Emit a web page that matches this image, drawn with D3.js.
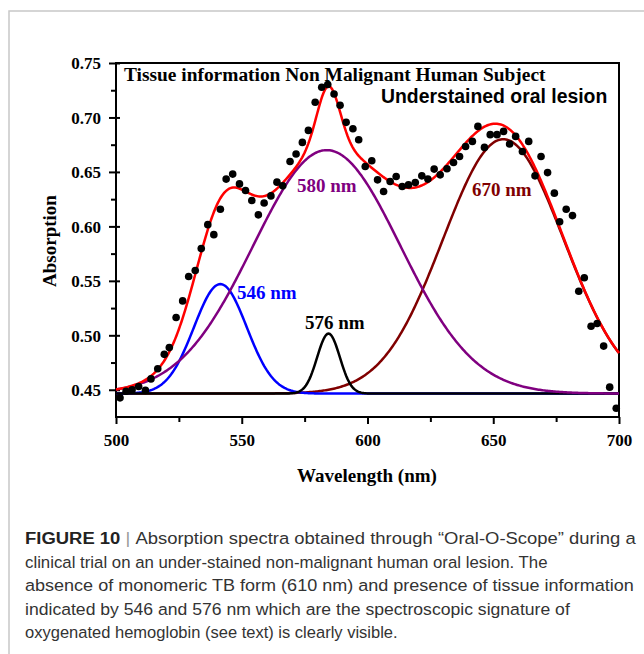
<!DOCTYPE html>
<html lang="en">
<head>
    <meta charset="UTF-8">
    <title>Figure 10</title>
    <script src="https://cdn.jsdelivr.net/npm/d3@7"></script>
    <style>
        body { margin: 0; background: #fff; }
        svg { display: block; }
    </style>
</head>
<body>
    <svg></svg>
    <script>
        // measured points (wavelength nm, absorption)
        let wavelength = [501.6, 504.0, 506.4, 509.0, 511.7, 513.9, 516.6, 519.2, 521.2, 523.9,
            526.5, 528.9, 531.5, 533.9, 536.5, 538.9, 541.5, 543.8, 546.4, 549.1,
            551.5, 554.0, 556.6, 558.9, 561.6, 564.0, 566.3, 569.2, 571.6, 574.1,
            576.5, 579.2, 581.8, 584.2, 586.7, 589.1, 591.5, 594.2, 596.5, 599.1,
            601.7, 604.0, 606.4, 609.0, 611.4, 613.8, 616.3, 619.0, 621.6, 624.0,
            626.5, 628.9, 631.6, 634.2, 636.6, 639.0, 641.7, 643.9, 646.5, 648.8,
            651.5, 654.1, 656.5, 658.9, 661.6, 664.1, 666.6, 669.0, 671.6, 674.3,
            676.4, 679.0, 681.5, 684.0, 686.2, 688.9, 691.3, 693.9, 696.3, 698.9];
        let absorption = [0.4426, 0.4487, 0.4500, 0.4530, 0.4494, 0.4600, 0.4693, 0.4825, 0.4887, 0.5163,
            0.5316, 0.5540, 0.5595, 0.5796, 0.6016, 0.5924, 0.6157, 0.6434, 0.6480, 0.6390,
            0.6329, 0.6237, 0.6106, 0.6215, 0.6280, 0.6406, 0.6372, 0.6596, 0.6664, 0.6771,
            0.6881, 0.7139, 0.7277, 0.7302, 0.7216, 0.7112, 0.6955, 0.6897, 0.6796, 0.6550,
            0.6602, 0.6427, 0.6320, 0.6412, 0.6458, 0.6366, 0.6381, 0.6402, 0.6464, 0.6434,
            0.6526, 0.6473, 0.6529, 0.6587, 0.6642, 0.6734, 0.6780, 0.6918, 0.6725, 0.6842,
            0.6842, 0.6872, 0.6756, 0.6826, 0.6688, 0.6780, 0.6464, 0.6642, 0.6494, 0.6305,
            0.6043, 0.6157, 0.6099, 0.5405, 0.5528, 0.5083, 0.5108, 0.4901, 0.4524, 0.4331];

        // gaussian fit components
        let baseline = 0.4465;
        let peakNames = ["546 nm", "576 nm", "580 nm", "670 nm"];
        let peakCenter = [541.5, 584.5, 583.8, 654.0];
        let peakTop = [0.547, 0.5016, 0.670, 0.680];
        let peakSigma = [10.5, 4.5, 29.3, 24];
        let peakColor = ["#0000ff", "#000000", "#800080", "#800000"];

        let xTicks = [500, 550, 600, 650, 700];
        let yTicks = [0.45, 0.50, 0.55, 0.60, 0.65, 0.70, 0.75];

        let width = 644, height = 654;
        let svg = d3.select("svg").attr("width", width).attr("height", height);

        // outer figure frame (grey)
        svg.append("path")
            .attr("d", "M9,654 V11 H644")
            .attr("fill", "none")
            .attr("stroke", "#c8c8c8")
            .attr("stroke-width", 1.5);

        let x = d3.scaleLinear().domain([500, 700]).range([116, 619]);
        let y = d3.scaleLinear().domain([0.425, 0.75]).range([417, 63]);

        let serif = "'Liberation Serif', 'Times New Roman', serif";
        let sans = "'Liberation Sans', Arial, sans-serif";

        // axes
        let xAxis = svg.append("g").attr("transform", "translate(0,417)")
            .call(d3.axisBottom(x).tickValues(xTicks).tickSize(7).tickSizeOuter(0).tickFormat(d3.format("d")));
        let xMinor = svg.append("g").attr("transform", "translate(0,417)")
            .call(d3.axisBottom(x).tickValues([525, 575, 625, 675]).tickSize(5).tickFormat(""));
        let yAxis = svg.append("g").attr("transform", "translate(116,0)")
            .call(d3.axisLeft(y).tickValues(yTicks).tickSize(7).tickSizeOuter(0).tickFormat(d3.format(".2f")));
        let yMinor = svg.append("g").attr("transform", "translate(116,0)")
            .call(d3.axisLeft(y).tickValues([0.475, 0.525, 0.575, 0.625, 0.675, 0.725]).tickSize(5).tickFormat(""));

        [xAxis, xMinor, yAxis, yMinor].forEach(g => {
            g.select(".domain").remove();
            g.selectAll("line").attr("stroke", "#000").attr("stroke-width", 2);
        });
        yAxis.selectAll(".tick line").attr("x2", -7).attr("x1", 4);
        xAxis.selectAll("text").attr("y", 17).attr("dy", "0.71em")
            .attr("font-family", serif).attr("font-size", 17).attr("font-weight", "bold").attr("fill", "#000");
        yAxis.selectAll("text").attr("x", -15).attr("dy", "0.34em")
            .attr("font-family", serif).attr("font-size", 17).attr("font-weight", "bold").attr("fill", "#000");

        // frame of the plot
        svg.append("rect")
            .attr("x", x(500)).attr("y", y(0.75))
            .attr("width", x(700) - x(500)).attr("height", y(0.425) - y(0.75))
            .attr("fill", "none").attr("stroke", "#000").attr("stroke-width", 2);

        // component curves
        let xs = d3.range(500, 700.01, 0.5);
        let gauss = (i, w) => (peakTop[i] - baseline) * Math.exp(-Math.pow(w - peakCenter[i], 2) / (2 * peakSigma[i] * peakSigma[i]));
        let line = d3.line().x(d => x(d[0])).y(d => y(d[1]));

        [3, 0, 1, 2].forEach(i => {
            svg.append("path")
                .datum(xs.map(w => [w, baseline + gauss(i, w)]))
                .attr("d", line)
                .attr("fill", "none")
                .attr("stroke", peakColor[i])
                .attr("stroke-width", 2.5);
        });

        // total fit
        svg.append("path")
            .datum(xs.map(w => [w, baseline + d3.sum(peakCenter, (c, i) => gauss(i, w))]))
            .attr("d", line)
            .attr("fill", "none")
            .attr("stroke", "#ff0000")
            .attr("stroke-width", 2.5);

        // measured points
        svg.append("g").selectAll("circle")
            .data(wavelength)
            .enter()
            .append("circle")
            .attr("cx", d => x(d))
            .attr("cy", (d, i) => y(absorption[i]))
            .attr("r", 3.8)
            .attr("fill", "#000");

        // peak labels
        let labelPos = [[237, 299], [305, 329], [297, 192], [472, 196]];
        peakNames.forEach((t, i) => {
            svg.append("text")
                .attr("x", labelPos[i][0]).attr("y", labelPos[i][1])
                .attr("font-family", serif).attr("font-size", 19).attr("font-weight", "bold")
                .attr("fill", peakColor[i])
                .text(t);
        });

        svg.append("text")
            .attr("x", 124).attr("y", 81)
            .attr("font-family", serif).attr("font-size", 19.4).attr("font-weight", "bold")
            .text("Tissue information Non Malignant Human Subject");
        svg.append("text")
            .attr("x", 381).attr("y", 103)
            .attr("font-family", sans).attr("font-size", 19.4).attr("font-weight", "bold")
            .text("Understained oral lesion");

        // axis titles
        svg.append("text")
            .attr("x", 367).attr("y", 482)
            .attr("text-anchor", "middle")
            .attr("font-family", serif).attr("font-size", 19).attr("font-weight", "bold")
            .text("Wavelength (nm)");
        svg.append("text")
            .attr("transform", "translate(56,241) rotate(-90)")
            .attr("text-anchor", "middle")
            .attr("font-family", serif).attr("font-size", 19).attr("font-weight", "bold")
            .text("Absorption");

        // caption
        let captionLines = [
            "Absorption spectra obtained through \u201cOral-O-Scope\u201d during a",
            "clinical trial on an under-stained non-malignant human oral lesion. The",
            "absence of monomeric TB form (610 nm) and presence of tissue information",
            "indicated by 546 and 576 nm which are the spectroscopic signature of",
            "oxygenated hemoglobin (see text) is clearly visible."
        ];
        let captionWidth = [610, 523, 609, 545, 373];
        captionLines.forEach((t, i) => {
            let txt = svg.append("text")
                .attr("font-family", sans).attr("font-size", 17).attr("fill", "#333");
            if (i === 0) {
                txt.append("tspan").attr("font-weight", "bold").attr("fill", "#222").text("FIGURE 10");
                txt.append("tspan").attr("fill", "#999").text(" | ");
            }
            txt.append("tspan").text(t);
            let w = txt.node().getComputedTextLength();
            txt.attr("transform", "translate(25," + (544 + i * 23.5) + ") scale(" + (captionWidth[i] / w) + ",1)");
        });
    </script>
</body>
</html>
